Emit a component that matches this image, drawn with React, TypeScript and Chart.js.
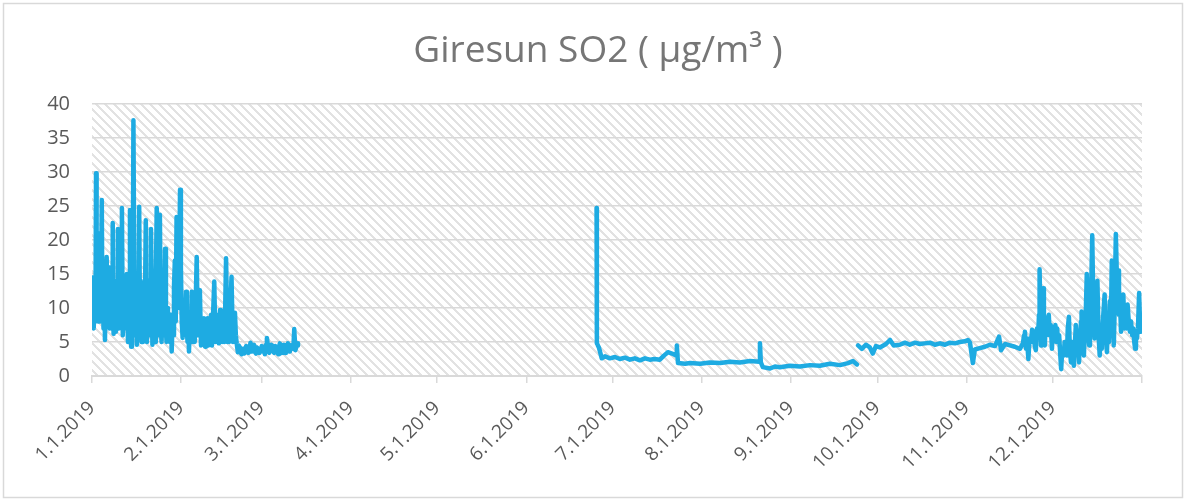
import React, { useEffect, useRef } from "react";
import { Chart, registerables } from "chart.js";

Chart.register(...registerables);

// ---------- data (day of year, µg/m³) ----------
const titleText = "Giresun SO2 ( µg/m³ )";

const monthStartDays = [0, 31, 59, 90, 120, 151, 181, 212, 243, 273, 304, 334, 365];
const monthLabels = [
  "1.1.2019", "2.1.2019", "3.1.2019", "4.1.2019", "5.1.2019", "6.1.2019",
  "7.1.2019", "8.1.2019", "9.1.2019", "10.1.2019", "11.1.2019", "12.1.2019", "",
];

const yTicks = [0, 5, 10, 15, 20, 25, 30, 35, 40];

// Winter segment (Jan – mid March)
const winterDays = [
  0, 0.3, 0.6, 0.9, 1.2, 1.4, 1.6, 1.9, 2.1, 2.3, 2.6, 2.9, 3.1, 3.4, 3.6, 3.8, 4.0, 4.3, 4.5, 4.8,
  5.1, 5.4, 5.7, 5.9, 6.1, 6.4, 6.7, 7.0, 7.2, 7.5, 7.8, 8.0, 8.3, 8.6, 8.8, 9.0, 9.3, 9.6, 9.9, 10.1,
  10.4, 10.7, 11.0, 11.2, 11.5, 11.8, 12.1, 12.5, 12.8, 13.0, 13.2, 13.6, 13.9, 14.1, 14.4, 14.8, 15.0,
  15.3, 15.6, 15.9, 16.1, 16.4, 16.7, 16.9, 17.2, 17.4, 17.7, 18.0, 18.3, 18.7, 19.1, 19.4, 19.6, 19.8,
  20.2, 20.5, 21.0, 21.3, 21.6, 21.9, 22.2, 22.5, 22.9, 23.2, 23.6, 23.9, 24.2, 24.5, 24.7, 25.0, 25.4,
  25.7, 25.9, 26.2, 26.4, 26.8, 27.1, 27.4, 27.7, 28.0, 28.3, 28.5, 28.8, 29.1, 29.4, 29.7, 29.9, 30.2,
  30.6, 30.9, 31.2, 31.5, 31.8, 32.0, 32.3, 32.7, 33.0, 33.2, 33.5, 33.7, 34.1, 34.4, 34.7, 35.1, 35.4,
  35.7, 36.0, 36.4, 36.8, 37.1, 37.5, 37.9, 38.3, 38.6, 38.9, 39.3, 39.6, 39.9, 40.2, 40.5, 40.8, 41.1,
  41.4, 41.7, 42.0, 42.5, 42.9, 43.2, 43.5, 43.8, 44.1, 44.5, 44.8, 45.1, 45.5, 45.8, 46.1, 46.6, 47.1,
  47.4, 47.7, 48.0, 48.5, 48.8, 49.0, 49.4, 49.7, 50.0, 50.3, 50.7, 51.0, 51.4, 51.7, 52.0, 52.5, 52.9,
  53.2, 53.6, 53.9, 54.3, 54.6, 55.1, 55.4, 55.6, 56.0, 56.3, 56.7, 57.0, 57.3, 57.7, 58.2, 58.7, 59.0,
  59.4, 59.8, 60.1, 60.5, 60.8, 61.3, 61.6, 61.9, 62.3, 62.6, 63.0, 63.3, 63.7, 64.0, 64.4, 64.7, 65.0,
  65.3, 65.7, 66.0, 66.4, 66.7, 67.1, 67.4, 67.8, 68.1, 68.5, 68.8, 69.2, 69.5, 70.0, 70.3, 70.7, 71.0,
  71.3, 71.6,
];
const winterValues = [
  8, 14.5, 7, 12, 8, 29.8, 9, 18, 8, 21, 8, 15, 9, 25.9, 9, 17, 7, 16, 5.3, 12,
  17.5, 9, 13, 16, 7, 12, 7, 14, 22.5, 6.2, 12, 13, 6.5, 14, 7, 21.6, 7, 12, 14, 8,
  24.7, 6, 13, 7, 14, 8, 15, 5, 14, 8, 24.4, 4.3, 16, 6, 37.6, 6, 12,
  15, 4.6, 13, 6, 24.9, 6, 14, 5, 12, 5, 13, 7, 22.9, 5, 14, 6, 12,
  6, 21.6, 4.6, 13, 10, 5, 14, 24.7, 6, 12, 23.7, 7, 5, 13, 10, 6, 18.7,
  7, 5, 10, 9, 8, 5, 9, 3.6, 8, 6, 13.1, 17, 8, 23.4, 12, 15, 10,
  27.4, 16, 8, 5.6, 10, 9, 6, 12.4, 7, 5, 8, 3.6, 8, 6, 12.4, 5, 8,
  5, 10, 17.5, 6, 10, 12.6, 4.5, 8, 5, 8.5, 4.3, 8, 5, 8.5, 4.5, 8, 5,
  9, 4.5, 8, 13.9, 5, 9, 5, 9, 4.8, 9.7, 5, 9, 5, 8, 5, 17.3, 5,
  9, 5, 9, 14.6, 8, 5, 9, 9.3, 6, 4.8, 3.5, 4.5, 4.2, 3.4, 3.2, 4, 3.3,
  3.6, 4.4, 4.2, 3.4, 3.5, 4.9, 3.8, 3.6, 4.3, 4.6, 3.5, 3.3, 4.2, 4, 3.4, 3.7, 4.4,
  4.3, 3.5, 3.2, 4.6, 5.6, 4, 3.4, 3.8, 4.6, 4.5, 3.6, 3.4, 4.4, 4.3, 3.5, 3.2, 4.2,
  4.8, 3.4, 3.6, 4.5, 4.6, 3.4, 3.5, 4.6, 4.8, 3.6, 3.8, 4.5, 4.2, 4.0, 6.9, 3.8, 4.2,
  4.8, 4.5,
];

// Summer segment (late June – late September)
const summerDays = [
  175.4, 175.5, 176.2, 177.2, 178.3, 180.0, 181.8, 183.5, 185.3, 187.0, 188.7, 190.5, 192.2, 193.9,
  195.6, 197.4, 198.8, 200.2, 201.6, 203.2, 203.3, 203.7, 206.2, 207.9, 211.4, 214.8, 218.3, 221.8,
  225.2, 228.7, 232.0, 232.2, 232.5, 233.2, 235.7, 237.4, 239.1, 242.6, 246.1, 249.6, 253.0, 256.5,
  260.0, 262.8, 264.5, 265.9,
];
const summerValues = [
  24.7, 4.8, 4.2, 2.6, 2.9, 2.6, 2.8, 2.5, 2.7, 2.4, 2.6, 2.3, 2.6, 2.4,
  2.5, 2.4, 3.0, 3.5, 3.3, 3.0, 4.5, 1.9, 1.8, 1.9, 1.8, 2.0, 1.9, 2.1,
  2.0, 2.2, 2.1, 4.8, 2.0, 1.3, 1.1, 1.4, 1.3, 1.5, 1.4, 1.6, 1.5, 1.8,
  1.6, 1.9, 2.2, 1.7,
];

// Autumn segment (late September – December)
const autumnDays = [
  266.3, 267.6, 269.0, 270.4, 271.4, 272.5, 273.9, 276.0, 277.4, 278.7, 280.8, 282.6, 284.3, 286.1,
  287.8, 289.5, 291.3, 293.0, 294.8, 296.5, 298.2, 300.0, 301.7, 303.4, 304.5, 305.2, 306.2, 306.9,
  308.6, 310.4, 312.1, 313.9, 315.3, 316.0, 317.4, 319.1, 320.8, 322.6, 323.6,
  324.0, 324.3, 324.7, 325.0, 325.5, 325.9, 326.4, 326.8, 327.3, 327.7, 328.1, 328.5, 328.9, 329.2,
  329.4, 329.7, 329.9, 330.2, 330.6, 330.9, 331.2, 331.6, 331.9, 332.3, 332.6, 332.9, 333.3, 333.7,
  334.0, 334.4, 334.9, 335.2, 335.5, 335.8, 336.2, 336.6, 336.9, 337.3, 337.8, 338.1, 338.5, 338.9,
  339.2, 339.6, 339.9, 340.3, 340.7, 341.0, 341.3, 341.7, 342.0, 342.4, 342.7, 343.1, 343.5, 343.8,
  344.0, 344.4, 344.8, 345.2, 345.5, 345.8, 346.2, 346.6, 346.9, 347.3, 347.7, 348.1, 348.5, 348.8,
  349.1, 349.5, 349.9, 350.3, 350.6, 351.0, 351.4, 352.0, 352.4, 352.8, 353.2, 353.5, 353.8, 354.2,
  354.5, 354.8, 355.2, 355.5, 355.9, 356.3, 356.7, 357.0, 357.3, 357.7, 358.1, 358.5, 358.9, 359.3,
  359.6, 360.0, 360.4, 360.8, 361.2, 361.6, 362.0, 362.3, 362.6, 362.9, 363.2, 363.6, 364.0, 364.4,
  364.7, 365.0,
];
const autumnValues = [
  4.5, 4.0, 4.6, 4.2, 3.3, 4.4, 4.2, 4.7, 5.3, 4.5, 4.6, 4.9, 4.6, 4.9,
  4.7, 4.8, 4.9, 4.6, 4.8, 4.6, 4.9, 4.8, 5.0, 5.1, 5.3, 4.9, 1.9, 3.9,
  4.1, 4.3, 4.6, 4.4, 5.8, 3.8, 4.7, 4.5, 4.3, 4.0, 4.8,
  6.0, 6.5, 4.0, 5.5, 2.5, 5.5, 5.0, 6.8, 6.5, 4.5, 3.8, 7.0, 6.0, 9.0,
  15.7, 8.0, 4.5, 9.0, 12.9, 6.0, 4.5, 8.0, 6.0, 8.5, 9.0, 6.0, 7.5, 4.0,
  7.0, 6.0, 7.5, 5.0, 7.0, 5.3, 6.0, 3.0, 1.0, 4.0, 3.0, 5.0, 5.0, 3.0,
  7.0, 8.7, 4.0, 2.0, 5.0, 3.0, 1.5, 5.0, 7.5, 4.0, 6.0, 2.0, 6.0, 8.0,
  9.5, 5.0, 3.0, 8.0, 10.0, 15.0, 7.0, 4.5, 9.0, 12.0, 20.7, 10.0, 5.5, 9.0,
  7.0, 14.0, 6.0, 3.0, 6.0, 4.0, 8.0, 12.0, 6.0, 3.5, 8.0, 5.0, 11.0, 8.0,
  17.0, 9.0, 4.5, 10.0, 20.9, 14.0, 15.5, 9.0, 12.0, 6.5, 10.0, 12.0, 7.0, 9.5,
  7.0, 10.5, 8.0, 6.5, 8.0, 6.0, 7.0, 5.0, 4.0, 6.0, 5.5, 7.0, 12.2, 6.5,
  9.0, 8.8,
];

// ---------- helpers ----------
function buildPoints() {
  const pts: { x: number; y: number | null }[] = [];
  const segs: [number[], number[]][] = [
    [winterDays, winterValues],
    [summerDays, summerValues],
    [autumnDays, autumnValues],
  ];
  segs.forEach(([d, v], si) => {
    d.forEach((x, i) => pts.push({ x, y: v[i] }));
    if (si < segs.length - 1) pts.push({ x: d[d.length - 1] + 0.05, y: null });
  });
  return pts;
}

function makeHatch(ctx: CanvasRenderingContext2D) {
  const size = 9;
  const c = document.createElement("canvas");
  c.width = size;
  c.height = size;
  const g = c.getContext("2d")!;
  g.fillStyle = "#ffffff";
  g.fillRect(0, 0, size, size);
  g.fillStyle = "#e2e2e2";
  for (let y = 0; y < size; y++) {
    for (let x = 0; x < size; x++) {
      const m = (((x - y) % size) + size) % size;
      if (m < 3) g.fillRect(x, y, 1, 1);
    }
  }
  return ctx.createPattern(c, "repeat");
}

const backgroundPlugin = {
  id: "bgHatchBorder",
  beforeDraw(chart: any) {
    const { ctx, chartArea, width, height } = chart;
    ctx.save();
    ctx.fillStyle = "#ffffff";
    ctx.fillRect(0, 0, width, height);
    ctx.strokeStyle = "#d9d9d9";
    ctx.lineWidth = 1.5;
    ctx.strokeRect(3.5, 3.5, width - 7, height - 7);
    const pat = makeHatch(ctx);
    if (pat) {
      ctx.fillStyle = pat;
      ctx.fillRect(chartArea.left, chartArea.top, chartArea.right - chartArea.left, chartArea.bottom - chartArea.top);
    }
    ctx.restore();
  },
  afterDraw(chart: any) {
    const { ctx } = chart;
    ctx.save();
    ctx.fillStyle = "#767676";
    ctx.font = "37px 'Open Sans', sans-serif";
    ctx.textAlign = "center";
    ctx.textBaseline = "alphabetic";
    ctx.fillText(titleText, 598, 62);
    ctx.restore();
  },
};

export default function App() {
  const ref = useRef<HTMLCanvasElement | null>(null);

  useEffect(() => {
    document.body.style.margin = "0";
    const canvas = ref.current;
    if (!canvas) return;
    const chart = new Chart(canvas, {
      type: "line",
      data: {
        datasets: [
          {
            label: "SO2",
            data: buildPoints() as any,
            borderColor: "#1eabe2",
            backgroundColor: "#1eabe2",
            borderWidth: 4.5,
            pointRadius: 0,
            pointHoverRadius: 0,
            tension: 0,
            spanGaps: false,
            borderJoinStyle: "round",
            borderCapStyle: "round",
          },
        ],
      },
      options: {
        animation: false,
        responsive: true,
        maintainAspectRatio: false,
        layout: { padding: { left: 0, right: 44, top: 104, bottom: 0 } },
        plugins: {
          legend: { display: false },
          tooltip: { enabled: false },
          title: { display: false },
        },
        scales: {
          x: {
            type: "linear",
            min: 0,
            max: 365,
            afterBuildTicks: (axis: any) => {
              axis.ticks = monthStartDays.map((v) => ({ value: v }));
            },
            afterFit: (scale: any) => {
              scale.height = 125;
            },
            ticks: {
              autoSkip: false,
              minRotation: 45,
              maxRotation: 45,
              padding: 14,
              color: "#595959",
              font: { family: "'Open Sans', sans-serif", size: 19 },
              callback: (_v: any, i: number) => monthLabels[i],
            },
            grid: {
              display: true,
              drawOnChartArea: false,
              drawTicks: true,
              tickLength: 7,
              color: "#d9d9d9",
              lineWidth: 1.5,
            },
            border: { display: true, color: "#d9d9d9", width: 2 },
          },
          y: {
            min: 0,
            max: 40,
            afterBuildTicks: (axis: any) => {
              axis.ticks = yTicks.map((v) => ({ value: v }));
            },
            afterFit: (scale: any) => {
              scale.width = 92;
            },
            ticks: {
              padding: 22,
              color: "#595959",
              font: { family: "'Open Sans', sans-serif", size: 20 },
            },
            grid: {
              color: "#d9d9d9",
              lineWidth: 1.5,
              drawTicks: false,
            },
            border: { display: false },
          },
        },
      },
      plugins: [backgroundPlugin],
    });
    return () => chart.destroy();
  }, []);

  return (
    <div style={{ width: 1186, height: 501, position: "relative" }}>
      <canvas ref={ref} />
    </div>
  );
}
